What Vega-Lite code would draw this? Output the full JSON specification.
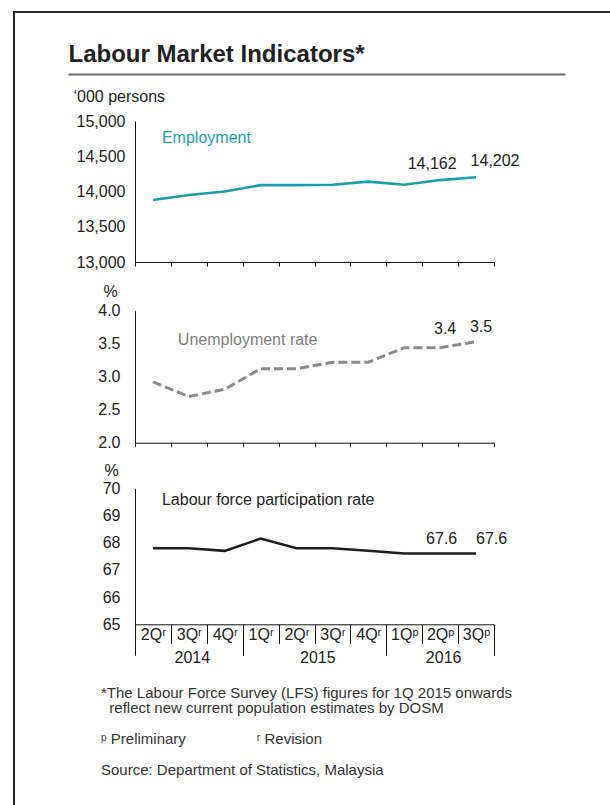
{
  "$schema": "https://vega.github.io/schema/vega-lite/v6.json",
  "width": 600,
  "height": 800,
  "autosize": {"type": "none"},
  "padding": {"left": 14, "top": 12, "right": 0, "bottom": 0},
  "background": "white",
  "config": {
    "font": "Liberation Sans",
    "view": {"stroke": "#2a2a2a", "strokeWidth": 2},
    "axis": {"labelFont": "Liberation Sans", "titleFont": "Liberation Sans", "labelColor": "#222", "domainColor": "#111", "tickColor": "#111", "grid": false, "labelFontSize": 16, "titleFontWeight": "normal", "titleColor": "#222", "titleFontSize": 16},
    "text": {"font": "Liberation Sans", "fontSize": 16}
  },
  "title": {
    "text": ["*The Labour Force Survey (LFS) figures for 1Q 2015 onwards", "\u200b\u00a0\u00a0reflect new current population estimates by DOSM", "\u200b", "ᵖ Preliminary\u00a0\u00a0\u00a0\u00a0\u00a0\u00a0\u00a0\u00a0\u00a0\u00a0\u00a0\u00a0\u00a0\u00a0\u00a0\u00a0\u00a0ʳ Revision", "\u200b", "Source: Department of Statistics, Malaysia"],
    "orient": "bottom",
    "anchor": "start",
    "frame": "group",
    "offset": -114,
    "dx": 87,
    "baseline": "alphabetic",
    "fontSize": 15,
    "fontWeight": "normal",
    "color": "#333",
    "lineHeight": 15.4
  },
  "data": {
    "values": [
      {"t": "2014-2", "emp": 13880, "ur": 2.92, "lfpr": 67.8},
      {"t": "2014-3", "emp": 13950, "ur": 2.70, "lfpr": 67.8},
      {"t": "2014-4", "emp": 14000, "ur": 2.81, "lfpr": 67.7},
      {"t": "2015-1", "emp": 14090, "ur": 3.12, "lfpr": 68.15},
      {"t": "2015-2", "emp": 14090, "ur": 3.12, "lfpr": 67.8},
      {"t": "2015-3", "emp": 14095, "ur": 3.22, "lfpr": 67.8},
      {"t": "2015-4", "emp": 14140, "ur": 3.22, "lfpr": 67.7},
      {"t": "2016-1", "emp": 14095, "ur": 3.44, "lfpr": 67.6},
      {"t": "2016-2", "emp": 14162, "ur": 3.44, "lfpr": 67.6},
      {"t": "2016-3", "emp": 14202, "ur": 3.53, "lfpr": 67.6}
    ]
  },
  "resolve": {"scale": {"x": "independent", "y": "independent"}, "axis": {"x": "independent", "y": "independent"}},
  "layer": [
    {
      "transform": [{"filter": "datum.t == '2014-2'"}],
      "mark": {"type": "point", "opacity": 0, "size": 1},
      "encoding": {
        "x": {"datum": 0, "type": "quantitative", "scale": {"domain": [0, 1], "range": [54, 551]},
          "axis": {"orient": "top", "offset": -62, "ticks": false, "labels": false, "grid": false, "domainColor": "#6b6b6b", "domainWidth": 2,
            "title": "Labour Market Indicators*", "titleFontSize": 24, "titleFontWeight": "bold", "titleColor": "#222", "titleAnchor": "start", "titleAlign": "left", "titleBaseline": "alphabetic", "titleX": 54, "titleY": -13}}
      }
    },
    {
      "resolve": {"axis": {"x": "independent", "y": "independent"}},
      "layer": [
        {
          "mark": {"type": "line", "color": "#1a9fa8", "strokeWidth": 2.6},
          "encoding": {
            "x": {"field": "t", "type": "nominal", "scale": {"domain": ["2014-2","2014-3","2014-4","2015-1","2015-2","2015-3","2015-4","2016-1","2016-2","2016-3"], "range": [121, 480], "paddingInner": 0, "paddingOuter": 0},
              "axis": {"orient": "bottom", "offset": -550, "labels": false, "title": null, "tickBand": "extent", "tickSize": 4}},
            "y": {"field": "emp", "type": "quantitative", "scale": {"domain": [13000, 15000], "range": [250, 109], "zero": false, "nice": false},
              "axis": {"orient": "left", "offset": -121, "values": [13000, 13500, 14000, 14500, 15000], "labelExpr": "format(datum.value, ',')", "ticks": false, "labelPadding": 10,
                "title": "‘000 persons", "titleX": -62, "titleY": 89.7, "titleAngle": 0, "titleAlign": "left", "titleBaseline": "alphabetic"}}
          }
        },
        {
          "transform": [{"filter": "datum.t == '2016-2'"}],
          "mark": {"type": "text", "dx": -8, "dy": -11, "baseline": "alphabetic", "color": "#222"},
          "encoding": {
            "x": {"field": "t", "type": "nominal", "axis": null},
            "y": {"field": "emp", "type": "quantitative", "axis": null},
            "text": {"field": "emp", "type": "quantitative", "format": ","}
          }
        },
        {
          "transform": [{"filter": "datum.t == '2016-3'"}],
          "mark": {"type": "text", "dx": 19, "dy": -11, "baseline": "alphabetic", "color": "#222"},
          "encoding": {
            "x": {"field": "t", "type": "nominal", "axis": null},
            "y": {"field": "emp", "type": "quantitative", "axis": null},
            "text": {"field": "emp", "type": "quantitative", "format": ","}
          }
        },
        {
          "transform": [{"filter": "datum.t == '2014-2'"}],
          "mark": {"type": "text", "text": "Employment", "align": "left", "baseline": "alphabetic", "dx": 9, "color": "#1a9fa8"},
          "encoding": {
            "x": {"datum": "2014-2", "type": "nominal", "axis": null},
            "y": {"datum": 14690, "type": "quantitative", "axis": null}
          }
        }
      ]
    },
    {
      "resolve": {"axis": {"x": "independent", "y": "independent"}},
      "layer": [
        {
          "mark": {"type": "line", "color": "#8a8a8a", "strokeWidth": 3, "strokeDash": [9, 4]},
          "encoding": {
            "x": {"field": "t", "type": "nominal", "scale": {"domain": ["2014-2","2014-3","2014-4","2015-1","2015-2","2015-3","2015-4","2016-1","2016-2","2016-3"], "range": [121, 480], "paddingInner": 0, "paddingOuter": 0},
              "axis": {"orient": "bottom", "offset": -369.3, "labels": false, "title": null, "tickBand": "extent", "tickSize": 4}},
            "y": {"field": "ur", "type": "quantitative", "scale": {"domain": [2, 4], "range": [430.7, 298.7], "zero": false, "nice": false},
              "axis": {"orient": "left", "offset": -121, "values": [2, 2.5, 3, 3.5, 4], "format": ".1f", "ticks": false, "labelPadding": 15,
                "title": "%", "titleX": -32, "titleY": 284, "titleAngle": 0, "titleAlign": "left", "titleBaseline": "alphabetic"}}
          }
        },
        {
          "transform": [{"filter": "datum.t == '2016-2'"}],
          "mark": {"type": "text", "dx": 5, "dy": -13.6, "baseline": "alphabetic", "color": "#222"},
          "encoding": {
            "x": {"field": "t", "type": "nominal", "axis": null},
            "y": {"field": "ur", "type": "quantitative", "axis": null},
            "text": {"field": "ur", "type": "quantitative", "format": ".1f"}
          }
        },
        {
          "transform": [{"filter": "datum.t == '2016-3'"}],
          "mark": {"type": "text", "dx": 5, "dy": -10, "baseline": "alphabetic", "color": "#222"},
          "encoding": {
            "x": {"field": "t", "type": "nominal", "axis": null},
            "y": {"field": "ur", "type": "quantitative", "axis": null},
            "text": {"field": "ur", "type": "quantitative", "format": ".1f"}
          }
        },
        {
          "transform": [{"filter": "datum.t == '2014-2'"}],
          "mark": {"type": "text", "text": "Unemployment rate", "align": "left", "baseline": "alphabetic", "dx": -11, "color": "#7d7d7d"},
          "encoding": {
            "x": {"datum": "2014-3", "type": "nominal", "axis": null},
            "y": {"datum": 3.48, "type": "quantitative", "axis": null}
          }
        }
      ]
    },
    {
      "resolve": {"axis": {"x": "independent", "y": "independent"}},
      "layer": [
        {
          "mark": {"type": "line", "color": "#1e1e1e", "strokeWidth": 2.5},
          "encoding": {
            "x": {"field": "t", "type": "nominal", "scale": {"domain": ["2014-2","2014-3","2014-4","2015-1","2015-2","2015-3","2015-4","2016-1","2016-2","2016-3"], "range": [121, 480], "paddingInner": 0, "paddingOuter": 0},
              "axis": {"orient": "bottom", "offset": -187.7, "title": null, "tickBand": "extent", "tickSize": 19, "labelPadding": -17, "labelAngle": 0,
                "labelExpr": "datum.value ? substring(datum.value,5,6) + 'Q' + (substring(datum.value,0,4) == '2016' ? 'ᵖ' : 'ʳ') : ''"}},
            "y": {"field": "lfpr", "type": "quantitative", "scale": {"domain": [65, 70], "range": [612.3, 476.3], "zero": false, "nice": false},
              "axis": {"orient": "left", "offset": -121, "values": [65, 66, 67, 68, 69, 70], "ticks": false, "labelPadding": 15,
                "title": "%", "titleX": -31, "titleY": 463, "titleAngle": 0, "titleAlign": "left", "titleBaseline": "alphabetic"}}
          }
        },
        {
          "transform": [{"filter": "datum.t == '2016-2'"}],
          "mark": {"type": "text", "dx": 1.5, "dy": -10, "baseline": "alphabetic", "color": "#222"},
          "encoding": {
            "x": {"field": "t", "type": "nominal",
              "axis": {"orient": "bottom", "offset": -187.7, "title": null, "domain": false, "tickBand": "extent", "tickSize": 31, "labelAngle": 0,
                "values": ["2014-2", "2014-3", "2014-4", "2015-2", "2015-4", "2016-2", "2016-3"],
                "tickOpacity": {"condition": {"test": "indexof(['2014-4','2015-4','2016-3'], datum.value) >= 0 || datum.extra", "value": 1}, "value": 0},
                "labelExpr": "indexof(['2014-3','2015-2','2016-2'], datum.value) >= 0 ? substring(datum.value,0,4) : ''",
                "labelAlign": {"condition": {"test": "datum.value == '2015-2'", "value": "left"}, "value": "center"},
                "labelOffset": 3, "labelPadding": -6}},
            "y": {"field": "lfpr", "type": "quantitative", "axis": null},
            "text": {"field": "lfpr", "type": "quantitative", "format": ".1f"}
          }
        },
        {
          "transform": [{"filter": "datum.t == '2016-3'"}],
          "mark": {"type": "text", "dx": 15.5, "dy": -10, "baseline": "alphabetic", "color": "#222"},
          "encoding": {
            "x": {"field": "t", "type": "nominal", "axis": null},
            "y": {"field": "lfpr", "type": "quantitative", "axis": null},
            "text": {"field": "lfpr", "type": "quantitative", "format": ".1f"}
          }
        },
        {
          "transform": [{"filter": "datum.t == '2014-2'"}],
          "mark": {"type": "text", "text": "Labour force participation rate", "align": "left", "baseline": "alphabetic", "dx": 9, "color": "#1e1e1e"},
          "encoding": {
            "x": {"datum": "2014-2", "type": "nominal", "axis": null},
            "y": {"datum": 69.4, "type": "quantitative", "axis": null}
          }
        }
      ]
    }
  ]
}
